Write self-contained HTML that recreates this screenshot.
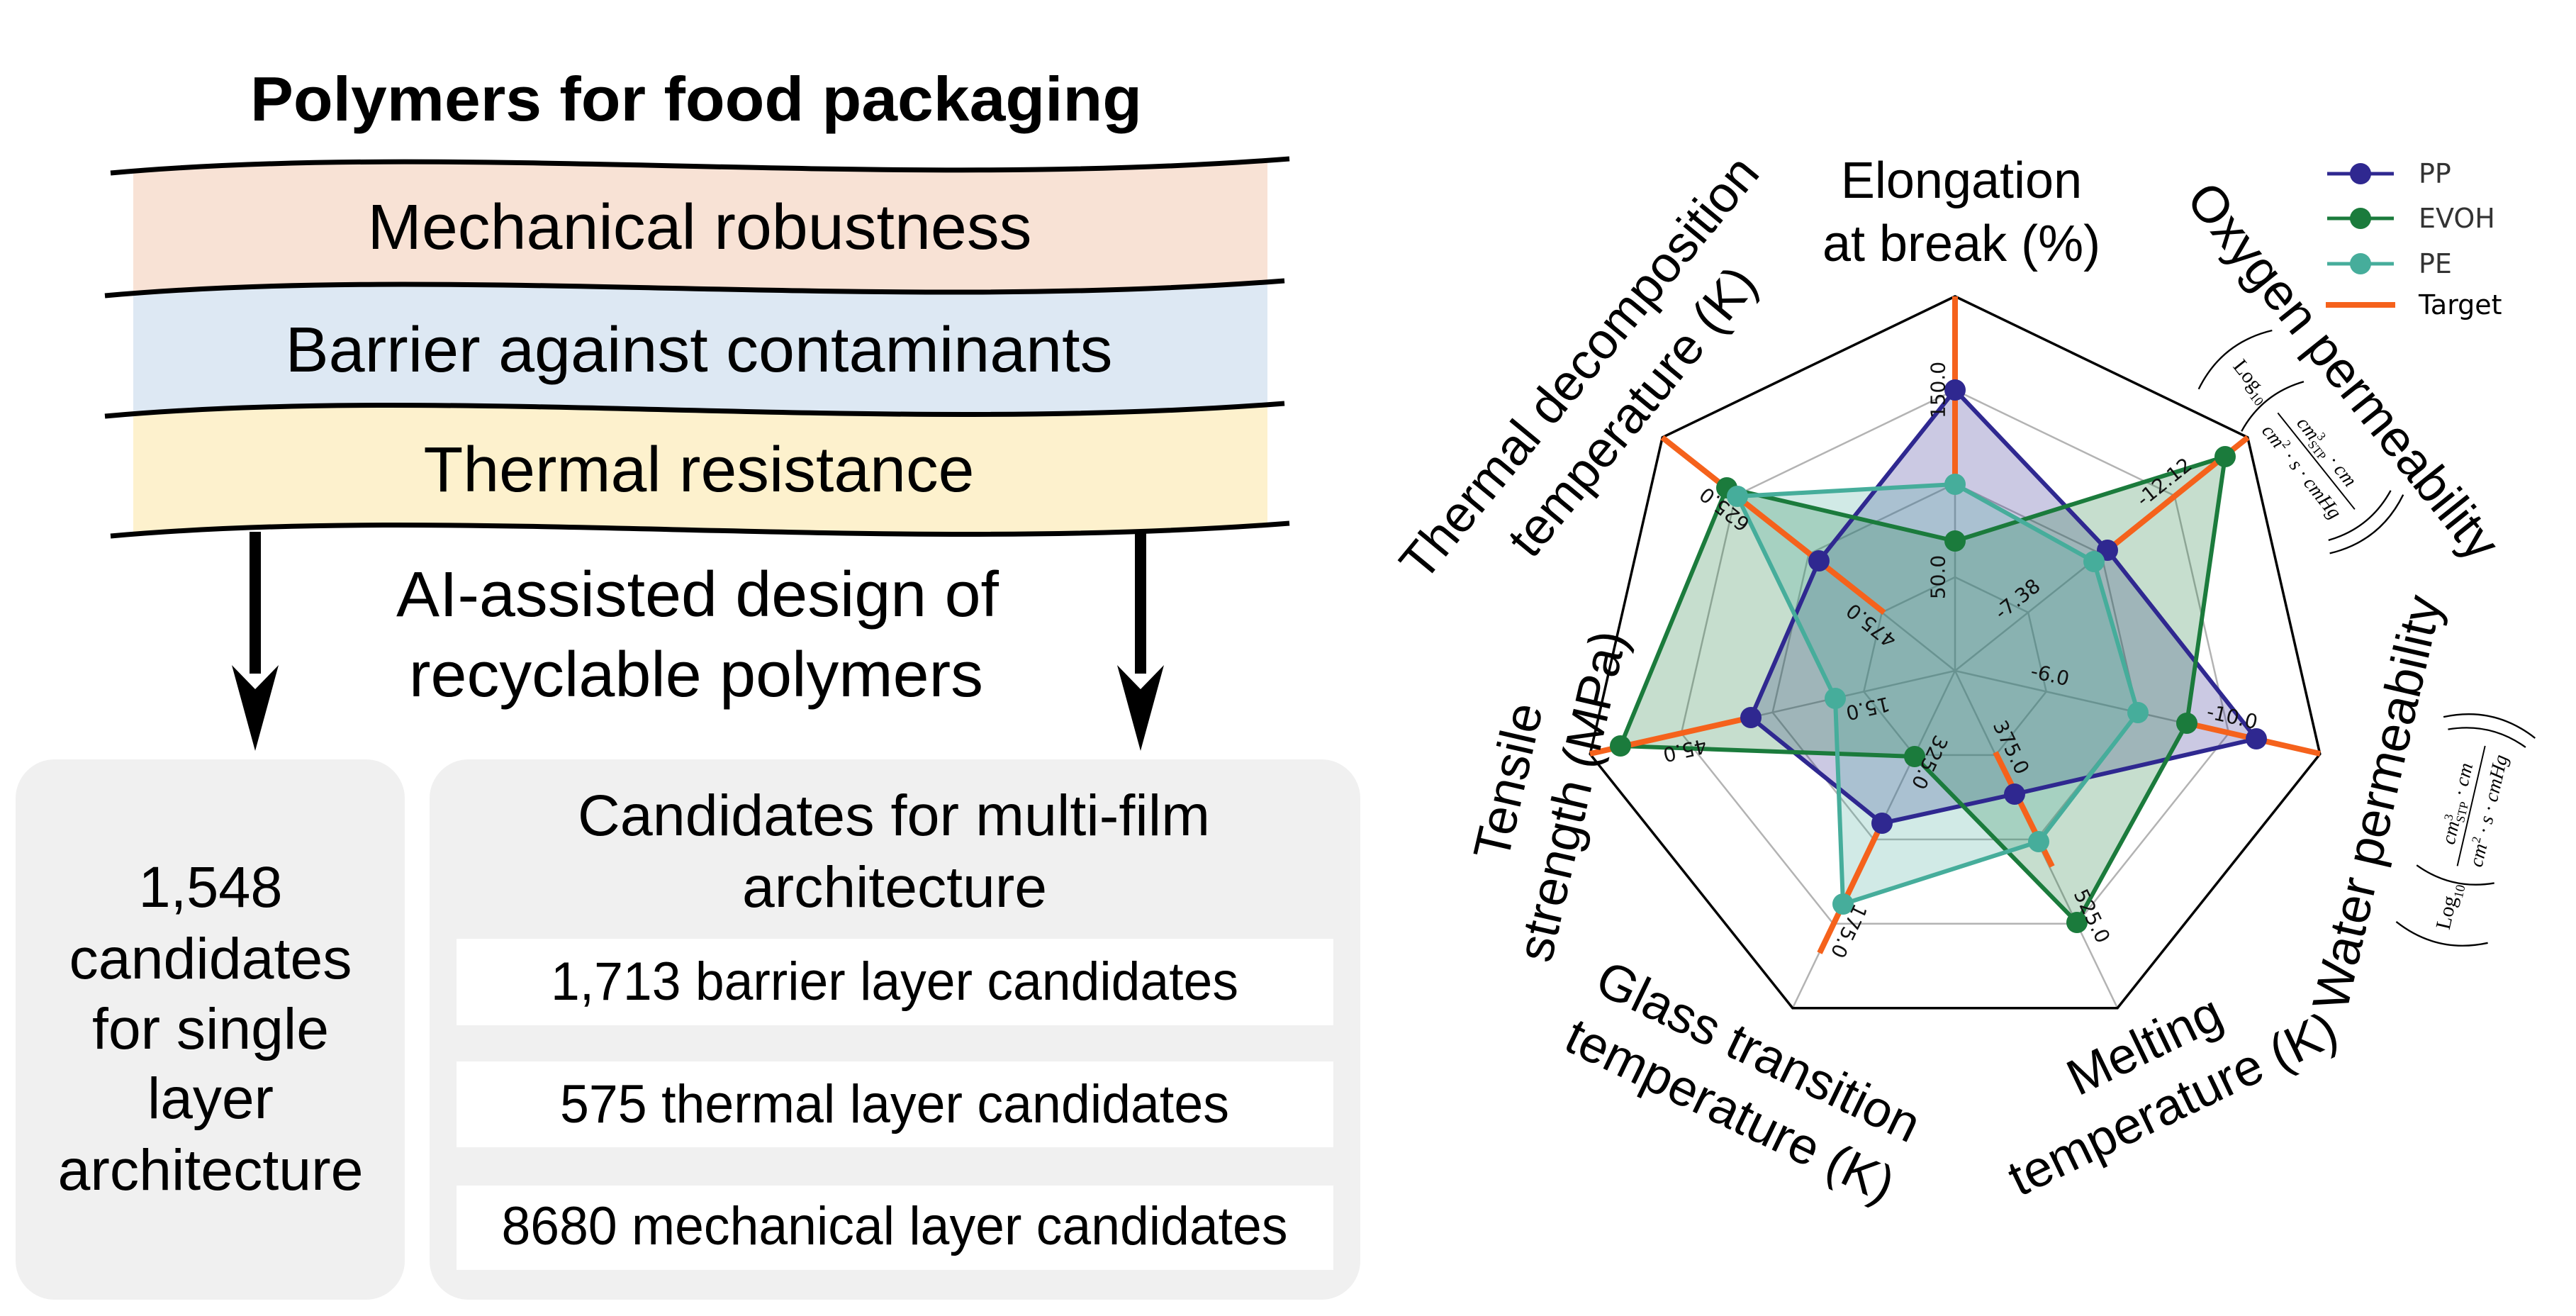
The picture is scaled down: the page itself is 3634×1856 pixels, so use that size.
<!DOCTYPE html>
<html><head><meta charset="utf-8"><style>
html,body{margin:0;padding:0;background:#fff;}
svg{display:block;}
.s{font-family:"Liberation Sans",Arial,sans-serif;}
.d{font-family:"DejaVu Sans","Liberation Sans",sans-serif;}
.m{font-family:"Liberation Serif","DejaVu Serif",serif;}
</style></head><body>
<svg width="3634" height="1856" viewBox="0 0 3634 1856" xmlns="http://www.w3.org/2000/svg">
<defs><clipPath id="cl"><rect x="188" y="150" width="1600" height="700"/></clipPath></defs>

<!-- LEFT PANEL -->
<text class="s" x="982" y="170" font-size="88" font-weight="bold" text-anchor="middle" textLength="1258" lengthAdjust="spacingAndGlyphs">Polymers for food packaging</text>
<g clip-path="url(#cl)">
<path d="M156,244 C655,199 1237,269 1819,224 L1812,396 C1230,441 647,372 148,417 Z" fill="#f8e2d5"/>
<path d="M148,417 C647,372 1230,441 1812,396 L1812,569 C1230,614 647,542 148,587 Z" fill="#dde8f3"/>
<path d="M148,587 C647,542 1230,614 1812,569 L1819,738 C1237,783 655,711 156,756 Z" fill="#fdf1cd"/>
</g>
<g fill="none" stroke="#000" stroke-width="7">
<path d="M156,244 C655,199 1237,269 1819,224"/>
<path d="M148,417 C647,372 1230,441 1812,396"/>
<path d="M148,587 C647,542 1230,614 1812,569"/>
<path d="M156,756 C655,711 1237,783 1819,738"/>
</g>
<g class="s" font-size="90" text-anchor="middle">
<text x="987" y="351" textLength="937" lengthAdjust="spacingAndGlyphs">Mechanical robustness</text>
<text x="986" y="524" textLength="1167" lengthAdjust="spacingAndGlyphs">Barrier against contaminants</text>
<text x="986" y="693" textLength="777" lengthAdjust="spacingAndGlyphs">Thermal resistance</text>
<text x="984" y="869" textLength="850" lengthAdjust="spacingAndGlyphs">AI-assisted design of</text>
<text x="982" y="982" textLength="810" lengthAdjust="spacingAndGlyphs">recyclable polymers</text>
</g>
<!-- arrows -->
<rect x="352" y="750" width="16" height="200" fill="#000"/>
<polygon points="327,938 360,972 393,938 360,1059" fill="#000"/>
<rect x="1601" y="750" width="16" height="200" fill="#000"/>
<polygon points="1576,938 1609,972 1642,938 1609,1059" fill="#000"/>
<!-- boxes -->
<rect x="22" y="1071" width="549" height="762" rx="55" fill="#f0f0f0"/>
<rect x="606" y="1071" width="1313" height="762" rx="55" fill="#f0f0f0"/>
<rect x="644" y="1324" width="1237" height="122" fill="#fff"/>
<rect x="644" y="1497" width="1237" height="121" fill="#fff"/>
<rect x="644" y="1672" width="1237" height="119" fill="#fff"/>
<g class="s" font-size="82" text-anchor="middle">
<text x="297" y="1279" textLength="203" lengthAdjust="spacingAndGlyphs">1,548</text>
<text x="297" y="1380" textLength="399" lengthAdjust="spacingAndGlyphs">candidates</text>
<text x="297" y="1479" textLength="334" lengthAdjust="spacingAndGlyphs">for single</text>
<text x="297" y="1577" textLength="178" lengthAdjust="spacingAndGlyphs">layer</text>
<text x="297" y="1678" textLength="431" lengthAdjust="spacingAndGlyphs">architecture</text>
<text x="1261" y="1178" textLength="892" lengthAdjust="spacingAndGlyphs">Candidates for multi-film</text>
<text x="1262" y="1279" textLength="430" lengthAdjust="spacingAndGlyphs">architecture</text>
</g>
<g class="s" font-size="76" text-anchor="middle">
<text x="1262" y="1410" textLength="970" lengthAdjust="spacingAndGlyphs">1,713 barrier layer candidates</text>
<text x="1262" y="1583" textLength="944" lengthAdjust="spacingAndGlyphs">575 thermal layer candidates</text>
<text x="1262" y="1755" textLength="1109" lengthAdjust="spacingAndGlyphs">8680 mechanical layer candidates</text>
</g>

<!-- RADAR -->
<g transform="translate(2758,946)">
<g fill="none" stroke="#b3b3b3" stroke-width="2.5">
<polygon points="0,-132 103.2,-82.3 128.7,29.4 57.3,118.9 -57.3,118.9 -128.7,29.4 -103.2,-82.3"/>
<polygon points="0,-264 206.4,-164.6 257.4,58.8 114.6,237.9 -114.6,237.9 -257.4,58.8 -206.4,-164.6"/>
<polygon points="0,-396 309.6,-246.9 386.1,88.1 171.8,356.8 -171.8,356.8 -386.1,88.1 -309.6,-246.9"/>
<line x1="0" y1="0" x2="0" y2="-528"/>
<line x1="0" y1="0" x2="412.8" y2="-329.2"/>
<line x1="0" y1="0" x2="514.8" y2="117.5"/>
<line x1="0" y1="0" x2="229.1" y2="475.7"/>
<line x1="0" y1="0" x2="-229.1" y2="475.7"/>
<line x1="0" y1="0" x2="-514.8" y2="117.5"/>
<line x1="0" y1="0" x2="-412.8" y2="-329.2"/>
</g>
<polygon points="0,-528 412.8,-329.2 514.8,117.5 229.1,475.7 -229.1,475.7 -514.8,117.5 -412.8,-329.2" fill="none" stroke="#000" stroke-width="3.5"/>
</g>
<!-- fills -->
<polygon points="2758,550 2973,776 3183,1042 2842,1120 2655,1161 2470,1012 2566,791" fill="#2f2890" fill-opacity="0.25"/>
<polygon points="2758,763 3139,644 3085,1020 2930,1301 2701,1067 2286,1052 2436,688" fill="#1b7b3c" fill-opacity="0.25"/>
<polygon points="2758,683 2954,792 3016,1005 2876,1187 2600,1275 2589,985 2451,700" fill="#46ad9b" fill-opacity="0.25"/>
<!-- lines -->
<g fill="none" stroke-width="6" stroke-linejoin="round">
<polygon points="2758,550 2973,776 3183,1042 2842,1120 2655,1161 2470,1012 2566,791" stroke="#2f2890"/>
<polygon points="2758,763 3139,644 3085,1020 2930,1301 2701,1067 2286,1052 2436,688" stroke="#1b7b3c"/>
<polygon points="2758,683 2954,792 3016,1005 2876,1187 2600,1275 2589,985 2451,700" stroke="#46ad9b"/>
</g>
<!-- target -->
<g stroke="#f5621c" stroke-width="8">
<line x1="2758" y1="418" x2="2758" y2="683"/>
<line x1="3171" y1="617" x2="2973" y2="776"/>
<line x1="3273" y1="1063" x2="3085" y2="1020"/>
<line x1="2815" y1="1061" x2="2895" y2="1222"/>
<line x1="2650" y1="1171" x2="2567" y2="1344"/>
<line x1="2243" y1="1063" x2="2470" y2="1012"/>
<line x1="2345" y1="617" x2="2658" y2="864"/>
</g>
<!-- markers -->
<g fill="#2f2890">
<circle cx="2758" cy="550" r="15"/><circle cx="2973" cy="776" r="15"/><circle cx="3183" cy="1042" r="15"/><circle cx="2842" cy="1120" r="15"/><circle cx="2655" cy="1161" r="15"/><circle cx="2470" cy="1012" r="15"/><circle cx="2566" cy="791" r="15"/>
</g>
<g fill="#1b7b3c">
<circle cx="2758" cy="763" r="15"/><circle cx="3139" cy="644" r="15"/><circle cx="3085" cy="1020" r="15"/><circle cx="2930" cy="1301" r="15"/><circle cx="2701" cy="1067" r="15"/><circle cx="2286" cy="1052" r="15"/><circle cx="2436" cy="688" r="15"/>
</g>
<g fill="#46ad9b">
<circle cx="2758" cy="683" r="15"/><circle cx="2954" cy="792" r="15"/><circle cx="3016" cy="1005" r="15"/><circle cx="2876" cy="1187" r="15"/><circle cx="2600" cy="1275" r="15"/><circle cx="2589" cy="985" r="15"/><circle cx="2451" cy="700" r="15"/>
</g>
<!-- tick labels -->
<g class="d" font-size="28" text-anchor="middle" dominant-baseline="central" fill="#111">
<text transform="translate(2734,814) rotate(-90)">50.0</text>
<text transform="translate(2846,845) rotate(-38.57)">-7.38</text>
<text transform="translate(2892,952) rotate(12.86)">-6.0</text>
<text transform="translate(2837,1054) rotate(64.29)">375.0</text>
<text transform="translate(2722,1075) rotate(115.71)">325.0</text>
<text transform="translate(2635,999) rotate(167.14)">15.0</text>
<text transform="translate(2640,882) rotate(218.57)">475.0</text>
<text transform="translate(2734,550) rotate(-90)">150.0</text>
<text transform="translate(3053,680) rotate(-38.57)">-12.12</text>
<text transform="translate(3149,1011) rotate(12.86)">-10.0</text>
<text transform="translate(2951,1292) rotate(64.29)">525.0</text>
<text transform="translate(2608,1313) rotate(115.71)">175.0</text>
<text transform="translate(2377,1058) rotate(167.14)">45.0</text>
<text transform="translate(2433,718) rotate(218.57)">625.0</text>
</g>
<!-- axis labels -->
<g class="s" font-size="72" text-anchor="middle" fill="#000">
<g transform="translate(2767,298)"><text y="-19">Elongation</text><text y="70">at break (%)</text></g>
<g transform="translate(2266,550) rotate(-50.5)"><text y="-25">Thermal decomposition</text><text y="72">temperature (K)</text></g>
<g transform="translate(3306,523) rotate(51.4)"><text y="25">Oxygen permeability</text></g>
<g transform="translate(3353,1132) rotate(-77)"><text y="25">Water permeability</text></g>
<g transform="translate(3045,1515) rotate(-25.7)"><text y="-21">Melting</text><text y="71">temperature (K)</text></g>
<g transform="translate(2461,1524) rotate(25.7)"><text y="-21">Glass transition</text><text y="71">temperature (K)</text></g>
<g transform="translate(2172,1112) rotate(-77)"><text y="-21">Tensile</text><text y="71">strength (MPa)</text></g>
</g>
<!-- unit sublabels -->
<g transform="translate(3245,622) rotate(51.4) scale(0.78)">
<g fill="none" stroke="#000" stroke-width="3">
<path d="M-188,-85 Q-228,0 -188,85"/>
<path d="M-80,-72 Q-110,0 -80,72"/>
<line x1="-65" y1="0" x2="158" y2="0" stroke-width="2.5"/>
<path d="M172,-72 Q202,0 172,72"/>
<path d="M192,-85 Q232,0 192,85"/>
</g>
<g class="m" fill="#000">
<text x="-182" y="12" font-size="38">Log<tspan font-size="24" dy="10">10</tspan></text>
<text x="45" y="-14" font-size="36" font-style="italic" text-anchor="middle">cm<tspan font-size="22" dy="-14" font-style="normal">3</tspan><tspan font-size="22" dy="22" dx="-10" font-style="normal">STP</tspan><tspan dy="-8"> · cm</tspan></text>
<text x="45" y="44" font-size="36" font-style="italic" text-anchor="middle">cm<tspan font-size="22" dy="-14" font-style="normal">2</tspan><tspan dy="14"> · s · cmHg</tspan></text>
</g>
</g>
<g transform="translate(3478,1172) rotate(-77) scale(0.78)">
<g fill="none" stroke="#000" stroke-width="3">
<path d="M-188,-85 Q-228,0 -188,85"/>
<path d="M-80,-72 Q-110,0 -80,72"/>
<line x1="-65" y1="0" x2="158" y2="0" stroke-width="2.5"/>
<path d="M172,-72 Q202,0 172,72"/>
<path d="M192,-85 Q232,0 192,85"/>
</g>
<g class="m" fill="#000">
<text x="-182" y="12" font-size="38">Log<tspan font-size="24" dy="10">10</tspan></text>
<text x="45" y="-14" font-size="36" font-style="italic" text-anchor="middle">cm<tspan font-size="22" dy="-14" font-style="normal">3</tspan><tspan font-size="22" dy="22" dx="-10" font-style="normal">STP</tspan><tspan dy="-8"> · cm</tspan></text>
<text x="45" y="44" font-size="36" font-style="italic" text-anchor="middle">cm<tspan font-size="22" dy="-14" font-style="normal">2</tspan><tspan dy="14"> · s · cmHg</tspan></text>
</g>
</g>
<!-- legend -->
<g stroke-width="5">
<line x1="3283" y1="245" x2="3377" y2="245" stroke="#2f2890"/>
<line x1="3283" y1="308" x2="3377" y2="308" stroke="#1b7b3c"/>
<line x1="3283" y1="372" x2="3377" y2="372" stroke="#46ad9b"/>
<line x1="3281" y1="430" x2="3379" y2="430" stroke="#f5621c" stroke-width="8"/>
</g>
<circle cx="3330" cy="245" r="15" fill="#2f2890"/>
<circle cx="3330" cy="308" r="15" fill="#1b7b3c"/>
<circle cx="3330" cy="372" r="15" fill="#46ad9b"/>
<g class="d" font-size="38" dominant-baseline="central">
<text x="3412" y="245" fill="#333">PP</text>
<text x="3412" y="308" fill="#333">EVOH</text>
<text x="3412" y="372" fill="#333">PE</text>
<text x="3412" y="430" fill="#000">Target</text>
</g>
</svg>
</body></html>
